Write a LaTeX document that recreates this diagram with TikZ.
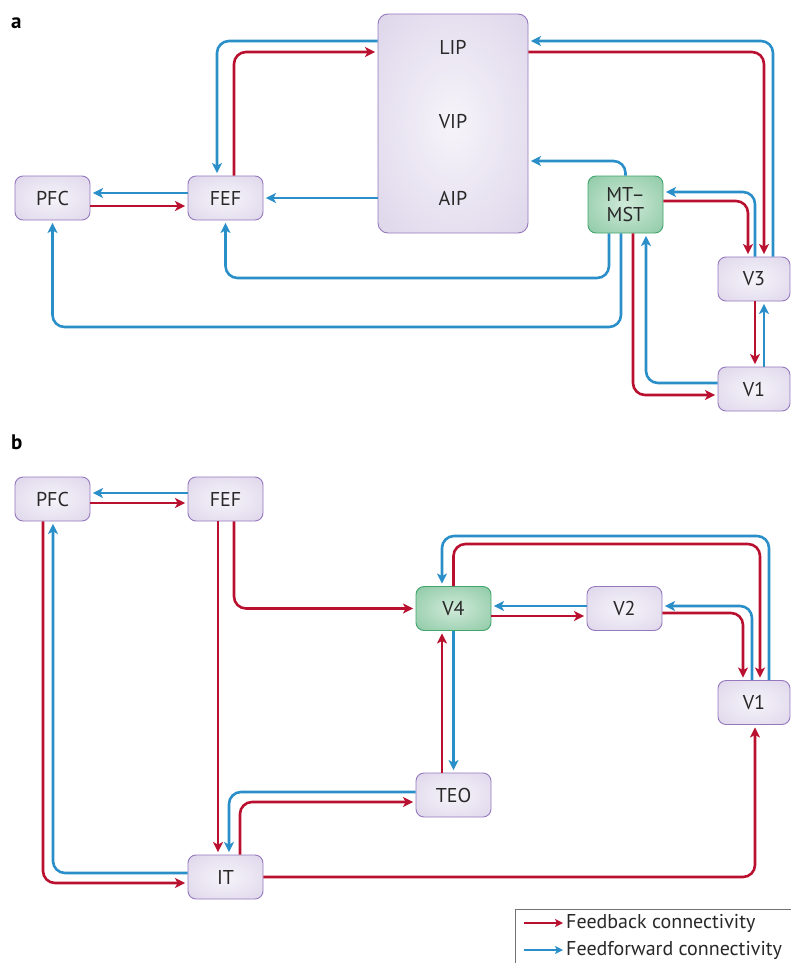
\documentclass[tikz,border=0pt]{standalone}
\usepackage{fontspec}
\setmainfont{PT Sans}
\usetikzlibrary{arrows.meta,calc}
\definecolor{fbred}{RGB}{184,16,46}
\definecolor{ffblue}{RGB}{42,143,201}
\definecolor{lavout}{RGB}{212,202,228}
\definecolor{lavin}{RGB}{246,244,250}
\definecolor{lavborder}{RGB}{150,120,190}
\definecolor{grout}{RGB}{115,188,145}
\definecolor{grin}{RGB}{208,234,217}
\definecolor{grborder}{RGB}{64,165,108}
\definecolor{txt}{RGB}{40,40,40}
\pgfdeclareradialshading{lavshade}{\pgfpoint{0bp}{0bp}}{color(0bp)=(lavin); color(50bp)=(lavout)}
\pgfdeclareradialshading{grshade}{\pgfpoint{0bp}{0bp}}{color(0bp)=(grin); color(50bp)=(grout)}
\begin{document}
\begin{tikzpicture}[x=1pt,y=-1pt,
  box/.style={draw=lavborder, line width=0.9pt, rounded corners=8pt, shade, shading=lavshade,
    minimum width=75pt, minimum height=44pt, inner sep=0pt, text=txt, font=\fontsize{20}{20.5}\selectfont},
  gbox/.style={box, draw=grborder, shading=grshade},
  lbl/.style={text=txt, font=\fontsize{20}{21}\selectfont, inner sep=0pt},
  fb/.style={draw=fbred, line width=2.6pt, rounded corners=12pt,
    -{Stealth[length=10pt,width=10pt,inset=2.5pt]}, shorten >=2.5pt},
  ff/.style={fb, draw=ffblue},
  panel/.style={anchor=base west, text=black, font=\bfseries\fontsize{21}{21}\selectfont, inner sep=0pt},
  legarrow/.style={line width=2pt, -{Stealth[length=8pt,width=8pt,inset=2pt]}}
]
\useasboundingbox (0,0) rectangle (791,963);

% ---------------- panel a ----------------
\node[panel] (la) at (11,29) {a};
\node[box] (pfca) at (52.5,198) {PFC};
\node[box] (fefa) at (225.5,198) {FEF};
\node[box, minimum width=150pt, minimum height=219pt, rounded corners=10pt] (big) at (453,123.5) {};
\node[lbl] (lip) at (453,47) {LIP};
\node[lbl] (vip) at (453,122) {VIP};
\node[lbl] (aip) at (453,198) {AIP};
\node[gbox, minimum height=57pt, align=center] (mt) at (625.5,204.5) {MT–\\MST};
\node[box, minimum width=72pt] (v3) at (754,279) {V3};
\node[box, minimum width=72pt] (v1a) at (754,389) {V1};

\draw[ff] ([yshift=5pt]fefa.west) -- ([yshift=5pt]pfca.east);
\draw[fb] ([yshift=-8pt]pfca.east) -- ([yshift=-8pt]fefa.west);
\draw[ff] (big.west |- fefa.east) -- (fefa.east);
\draw[ff] ([yshift=82.5pt]big.west) -| ([xshift=-8.5pt]fefa.north);
\draw[fb] ([xshift=8.5pt]fefa.north) |- ([yshift=71.5pt]big.west);
\draw[ff] ([xshift=19pt]v3.north) |- ([yshift=82.5pt]big.east);
\draw[fb] ([yshift=71.5pt]big.east) -| ([xshift=10pt]v3.north);
\draw[ff] (mt.north) |- ([yshift=-37.5pt]big.east);
\draw[ff] ([xshift=1pt]v3.north) |- ([yshift=12.5pt]mt.east);
\draw[fb] ([yshift=3.5pt]mt.east) -| ([xshift=-6pt]v3.north);
\draw[fb] ([xshift=1pt]v3.south) -- ([xshift=1pt]v1a.north);
\draw[ff] ([xshift=10pt]v1a.north) -- ([xshift=10pt]v3.south);
\draw[fb] ([xshift=7.5pt]mt.south) |- ([yshift=-6pt]v1a.west);
\draw[ff] ([yshift=6pt]v1a.west) -| ([xshift=20.5pt]mt.south);
\draw[ff] ([xshift=-16.5pt]mt.south) -- (609,278) -- (225.5,278) -- (fefa.south);
\draw[ff] ([xshift=-4.5pt]mt.south) -- (621,327) -- (52.5,327) -- (pfca.south);

% ---------------- panel b ----------------
\node[panel] (lb) at (11,449) {b};
\node[box] (pfcb) at (52.5,499) {PFC};
\node[box] (fefb) at (225.5,499) {FEF};
\node[gbox] (v4) at (453.5,608.5) {V4};
\node[box] (v2) at (624.5,608.5) {V2};
\node[box, minimum width=72pt] (v1b) at (754,702.5) {V1};
\node[box] (teo) at (453.5,795) {TEO};
\node[box] (it) at (225.5,877) {IT};

\draw[ff] ([yshift=6pt]fefb.west) -- ([yshift=6pt]pfcb.east);
\draw[fb] ([yshift=-4pt]pfcb.east) -- ([yshift=-4pt]fefb.west);
\draw[ff] ([yshift=2.5pt]v2.west) -- ([yshift=2.5pt]v4.east);
\draw[fb] ([yshift=-7.5pt]v4.east) -- ([yshift=-7.5pt]v2.west);
\draw[ff] ([xshift=-2pt]v1b.north) |- ([yshift=2.5pt]v2.east);
\draw[fb] ([yshift=-4.5pt]v2.east) -| ([xshift=-11pt]v1b.north);
\draw[ff] ([xshift=15pt]v1b.north) -- (769,536) -- (442,536) -- ([xshift=-11.5pt]v4.north);
\draw[fb] (v4.north) -- (453.5,544) -- (760,544) -- ([xshift=6pt]v1b.north);
\draw[fb] ([xshift=8.5pt]fefb.south) |- (v4.west);
\draw[fb] ([xshift=-7.5pt]fefb.south) -- ([xshift=-7.5pt]it.north);
\draw[ff] ([yshift=3pt]teo.west) -| ([xshift=3.5pt]it.north);
\draw[fb] ([xshift=14.5pt]it.north) |- ([yshift=-7pt]teo.west);
\draw[ff] (v4.south) -- (teo.north);
\draw[fb] ([xshift=-11.5pt]teo.north) -- ([xshift=-11.5pt]v4.south);
\draw[fb] ([xshift=-9.5pt]pfcb.south) |- ([yshift=-6pt]it.west);
\draw[ff] ([yshift=4pt]it.west) -| ([xshift=0.5pt]pfcb.south);
\draw[fb] (it.east) -| ([xshift=1pt]v1b.south);

% ---------------- legend ----------------
\draw[draw=black!55, line width=0.8pt] (515,975) -- (515,909) -- (800,909);
\coordinate (lr1) at (524,923);
\coordinate (lr2) at (563,923);
\coordinate (lb1) at (524,950);
\coordinate (lb2) at (563,950);
\draw[legarrow, draw=fbred] (lr1) -- (lr2);
\draw[legarrow, draw=ffblue] (lb1) -- (lb2);
\node[lbl, anchor=west] (lt1) at (566,923) {Feedback connectivity};
\node[lbl, anchor=west] (lt2) at (566,950) {Feedforward connectivity};
\end{tikzpicture}
\end{document}
